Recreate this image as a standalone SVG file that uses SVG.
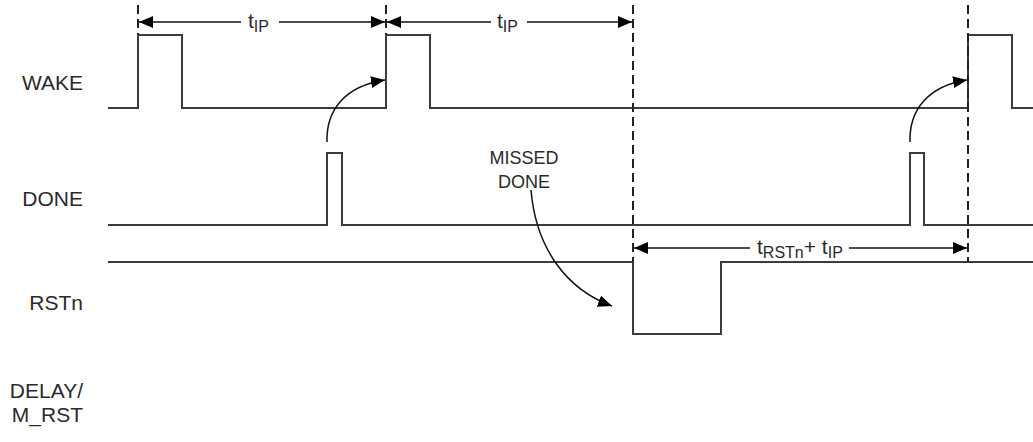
<svg xmlns="http://www.w3.org/2000/svg" width="1033" height="442" viewBox="0 0 1033 442">
<style>
.sig{fill:none;stroke:#3c3c3c;stroke-width:2}
.dash{fill:none;stroke:#222;stroke-width:2;stroke-dasharray:9,5}
.dim{fill:none;stroke:#111;stroke-width:1.5}
.cur{fill:none;stroke:#111;stroke-width:1.5}
.lbl{font-family:"Liberation Sans",Arial,sans-serif;font-size:21px;fill:#2a2a2a;text-anchor:end}
.t{font-family:"Liberation Sans",Arial,sans-serif;font-size:21px;fill:#2a2a2a}
.sub{font-size:16px}
.note{font-family:"Liberation Sans",Arial,sans-serif;font-size:18px;fill:#2a2a2a;text-anchor:middle}
</style>
<defs>
<marker id="ah" viewBox="0 0 14 12" refX="14" refY="6" markerWidth="14" markerHeight="12" markerUnits="userSpaceOnUse" orient="auto-start-reverse">
<path d="M0,0 L14,6 L0,12 Z" fill="#000"/>
</marker>
</defs>
<rect width="1033" height="442" fill="#fff"/>
<g id="labels">
<text class="lbl" x="83" y="90">WAKE</text>
<text class="lbl" x="83" y="206">DONE</text>
<text class="lbl" x="83" y="310">RSTn</text>
<text class="lbl" x="83" y="398">DELAY/</text>
<text class="lbl" x="83" y="422">M_RST</text>
</g>
<g id="wake">
<path class="sig" d="M108,108 H138 V35 H182 V108 H386 V35 H430 V108 H968 V35 H1012 V108 H1033"/>
</g>
<g id="done">
<path class="sig" d="M108,225 H327 V153 H342 V225 H910 V153 H924 V225 H1033"/>
</g>
<g id="rstn">
<path class="sig" d="M108,262 H633 V334 H721 V262 H1033"/>
</g>
<g id="missed">
<text class="note" x="524" y="164">MISSED</text>
<text class="note" x="524" y="188">DONE</text>
</g>
<g id="connectors">
<path class="dash" d="M138,5 V35"/>
<path class="dash" d="M386,5 V35"/>
<path class="dash" d="M633,5 V262"/>
<path class="dash" d="M968,5 V262"/>
<path class="dim" d="M139,22 H241" marker-start="url(#ah)"/>
<path class="dim" d="M279,22 H385" marker-end="url(#ah)"/>
<path class="dim" d="M387,22 H491" marker-start="url(#ah)"/>
<path class="dim" d="M527,22 H632" marker-end="url(#ah)"/>
<path class="dim" d="M634,248 H750" marker-start="url(#ah)"/>
<path class="dim" d="M849,248 H967" marker-end="url(#ah)"/>
<path class="cur" d="M327,142 C326,110 345,86 385,80" marker-end="url(#ah)"/>
<path class="cur" d="M910,142 C909,110 928,86 967,80" marker-end="url(#ah)"/>
<path class="cur" d="M531,190 C536,250 568,290 612,306" marker-end="url(#ah)"/>
</g>
<g id="dimlabels">
<text class="t" x="248" y="28">t<tspan class="sub" dy="4">IP</tspan></text>
<text class="t" x="497" y="28">t<tspan class="sub" dy="4">IP</tspan></text>
<text class="t" x="757" y="254">t<tspan class="sub" dy="4">RSTn</tspan><tspan dy="-4">+ t</tspan><tspan class="sub" dy="4">IP</tspan></text>
</g>
</svg>
